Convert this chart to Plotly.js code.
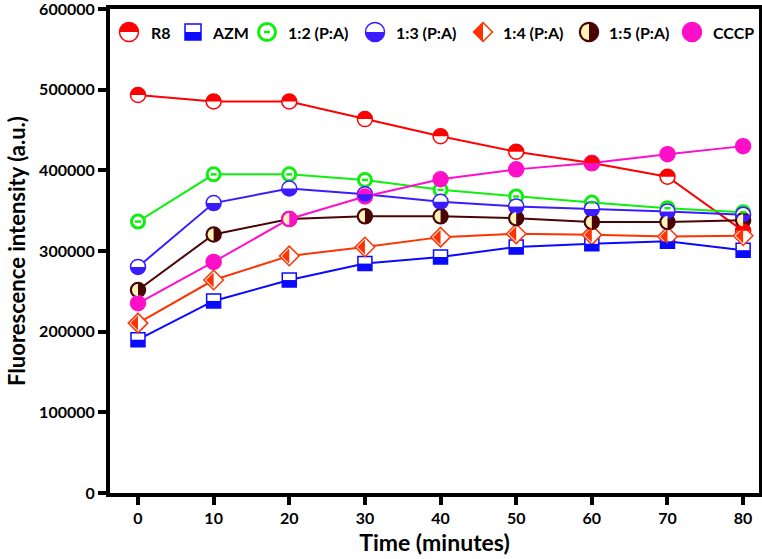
<!DOCTYPE html>
<html><head><meta charset="utf-8">
<script src="https://cdn.plot.ly/plotly-3.0.1.min.js"></script>
<style>html,body{margin:0;padding:0;background:#fff}#chart{width:762px;height:559px}</style>
</head><body><div id="chart"></div>
<script>
// ---- data ----
const times = [0, 10, 20, 30, 40, 50, 60, 70, 80];
const seriesNames = ['R8', 'AZM', '1:2 (P:A)', '1:3 (P:A)', '1:4 (P:A)', '1:5 (P:A)', 'CCCP'];
const r8   = [493400, 485300, 485300, 463500, 442200, 423000, 409000, 392000, 325000];
const azm  = [190000, 238100, 264000, 284400, 292600, 304900, 309000, 312000, 301000];
const pa12 = [336500, 395000, 395000, 388100, 375800, 367600, 360000, 353000, 348000];
const pa13 = [280300, 359400, 377500, 370500, 361100, 355300, 352000, 349000, 345000];
const pa14 = [210600, 264000, 293900, 304900, 317200, 321300, 320000, 318000, 319000];
const pa15 = [251700, 320500, 339700, 343000, 343000, 340600, 336000, 336000, 338000];
const cccp = [235200, 286500, 339700, 367600, 388900, 401200, 409000, 420000, 430000];
const yTicks = [0, 100000, 200000, 300000, 400000, 500000, 600000];

// ---- styles ----
const styles = [
  {data: r8,   color: '#ff0000', symbol: 'circle',  size: 15, fill: '#ffffff', lw: 1.5, half: 'top',    halfColor: '#ff0000'},
  {data: azm,  color: '#0a0aff', symbol: 'square',  size: 14, fill: '#ffffff', lw: 1.5, half: 'sqbottom', halfColor: '#0a0aff'},
  {data: pa12, color: '#0fef0f', symbol: 'circle',  size: 13, fill: '#ffffff', lw: 3,   half: 'bar',    halfColor: '#0fef0f'},
  {data: pa13, color: '#3a1cff', symbol: 'circle',  size: 15, fill: '#ffffff', lw: 1.5, half: 'bottom', halfColor: '#3a1cff'},
  {data: pa14, color: '#ff3300', symbol: 'diamond', size: 15, fill: '#ffffff', lw: 1.5, half: 'dleft',  halfColor: '#ff3300'},
  {data: pa15, color: '#4a0404', symbol: 'circle',  size: 15, fill: '#4a0404', lw: 1.5, half: 'left',   halfColor: '#fff3b8'},
  {data: cccp, color: '#ff0fc8', symbol: 'circle',  size: 15, fill: '#ff0fc8', lw: 1.5, half: null,     halfColor: null}
];

const K = 0.5523;
function halfPath(kind, size) {
  const r = size / 2;
  const k = K * r;
  switch (kind) {
    case 'top':    return `M ${-r},0 C ${-r},${k} ${-k},${r} 0,${r} C ${k},${r} ${r},${k} ${r},0 Z`;
    case 'bottom': return `M ${-r},0 C ${-r},${-k} ${-k},${-r} 0,${-r} C ${k},${-r} ${r},${-k} ${r},0 Z`;
    case 'left': {
      const q = r - 1.5, kq = K * q;
      return `M 0,${q} C ${-kq},${q} ${-q},${kq} ${-q},0 C ${-q},${-kq} ${-kq},${-q} 0,${-q} Z`;
    }
    case 'sqbottom': return `M ${-r},0 L ${r},0 L ${r},${-r} L ${-r},${-r} Z`;
    case 'dleft':  return `M 0,${r} L ${-r},0 L 0,${-r} Z`;
    case 'bar':    return `M -3,0 L 3,0`;
  }
  return null;
}
function baseShapePath(symbol, size) {
  const r = size / 2, k = K * r;
  if (symbol === 'square') return `M ${-r},${-r} L ${r},${-r} L ${r},${r} L ${-r},${r} Z`;
  if (symbol === 'diamond') return `M 0,${r} L ${r},0 L 0,${-r} L ${-r},0 Z`;
  return `M ${-r},0 C ${-r},${k} ${-k},${r} 0,${r} C ${k},${r} ${r},${k} ${r},0 C ${r},${-k} ${k},${-r} 0,${-r} C ${-k},${-r} ${-r},${-k} ${-r},0 Z`;
}
function halfShape(st, xref, yref, xa, ya) {
  const p = halfPath(st.half, st.size);
  if (!p) return null;
  const isBar = st.half === 'bar';
  return {
    type: 'path', layer: 'above', xref: xref, yref: yref,
    xsizemode: 'pixel', ysizemode: 'pixel', xanchor: xa, yanchor: ya,
    path: p,
    fillcolor: isBar ? 'rgba(0,0,0,0)' : st.halfColor,
    line: isBar ? {color: st.halfColor, width: 2.5} : {width: 0}
  };
}

const traces = [];
const shapes = [];
styles.forEach((st, i) => {
  traces.push({
    type: 'scatter', mode: 'lines+markers', name: seriesNames[i],
    x: times, y: st.data, showlegend: false,
    line: {color: st.color, width: 2},
    marker: {symbol: st.symbol, size: st.size, color: st.fill, line: {color: st.color, width: st.lw}}
  });
  times.forEach((t, j) => {
    const s = halfShape(st, 'x', 'y', t, st.data[j]);
    if (s) shapes.push(s);
  });
});

// ---- manual legend (layout positions in pixels) ----
const mT = 9, mB = 66;
const plotL = 110, plotW = 649, plotB = 559 - mB, plotH = 559 - mT - mB;
const legMarkX = [129, 193, 267, 375, 483, 589, 692];
const legTextX = [149, 210, 286, 394, 501, 607, 711];
const legY = 32;
const annotations = [];
styles.forEach((st, i) => {
  const xa = (legMarkX[i] - plotL) / plotW;
  const ya = (plotB - legY) / plotH;
  shapes.push({
    type: 'path', layer: 'above', xref: 'paper', yref: 'paper',
    xsizemode: 'pixel', ysizemode: 'pixel', xanchor: xa, yanchor: ya,
    path: baseShapePath(st.symbol, st.size + (st.symbol === 'square' ? 2 : 4)),
    fillcolor: st.fill, line: {color: st.color, width: st.lw}
  });
  const big = Object.assign({}, st, {size: st.size + (st.symbol === 'square' ? 2 : 4)});
  const h = halfShape(big, 'paper', 'paper', xa, ya);
  if (h) shapes.push(h);
  annotations.push({
    xref: 'paper', yref: 'paper', x: (legTextX[i] - plotL) / plotW, y: ya,
    xanchor: 'left', yanchor: 'middle', showarrow: false, text: seriesNames[i],
    font: {family: 'Lato', size: 16, weight: 'bold', color: '#000'}
  });
});

const layout = {
  width: 762, height: 559,
  margin: {l: 110, r: 3, t: mT, b: mB},
  paper_bgcolor: '#fff', plot_bgcolor: '#fff',
  showlegend: false,
  font: {family: 'Lato', color: '#000'},
  xaxis: {
    range: [-3.7, 82.1], tickvals: times, ticktext: times.map(String),
    showline: true, linewidth: 4, linecolor: '#000', mirror: true,
    ticks: 'outside', ticklen: 8, tickwidth: 4, tickcolor: '#000',
    showgrid: false, zeroline: false, ticklabeloverflow: 'allow',
    tickfont: {family: 'Lato', size: 16, weight: 'bold'},
    title: {text: 'Time (minutes)', font: {family: 'Lato', size: 23, weight: 'bold'}, standoff: 10}
  },
  yaxis: {
    range: [0, 600000], tickvals: yTicks, ticktext: yTicks.map(String),
    showline: true, linewidth: 4, linecolor: '#000', mirror: true,
    ticks: 'outside', ticklen: 8, tickwidth: 4, tickcolor: '#000',
    showgrid: false, zeroline: false, ticklabeloverflow: 'allow',
    tickfont: {family: 'Lato', size: 16, weight: 'bold'},
    title: {text: 'Fluorescence intensity (a.u.)', font: {family: 'Lato', size: 22, weight: 'bold'}, standoff: 8}
  },
  shapes: shapes,
  annotations: annotations
};

Plotly.newPlot('chart', traces, layout, {displayModeBar: false, staticPlot: true});
</script>
</body></html>
